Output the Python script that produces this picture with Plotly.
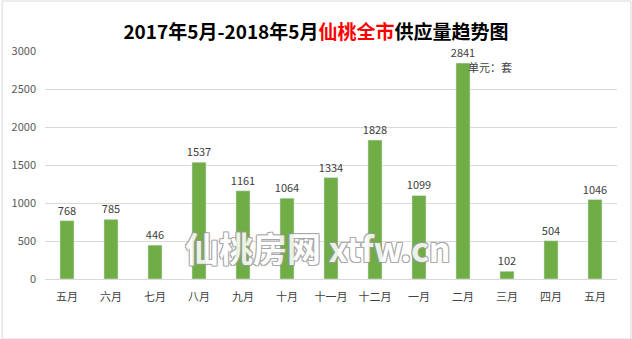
import plotly.graph_objects as go

months = ["五月", "六月", "七月", "八月", "九月", "十月", "十一月", "十二月", "一月", "二月", "三月", "四月", "五月"]
supply = [768, 785, 446, 1537, 1161, 1064, 1334, 1828, 1099, 2841, 102, 504, 1046]
xs = list(range(len(months)))

fig = go.Figure()
fig.add_trace(go.Bar(
    x=xs, y=supply, marker_color="#70ad47", width=0.32,
    text=[str(v) for v in supply], textposition="outside", constraintext="none",
    textfont=dict(size=11, color="#404040", family="Noto Sans CJK SC"),
    cliponaxis=False,
))
fig.update_layout(
    width=632, height=339,
    margin=dict(l=43, r=15, t=51, b=60),
    paper_bgcolor="white", plot_bgcolor="white",
    showlegend=False,
    title=dict(
        text="<b>2017年5月-2018年5月<span style='color:#ff0000'>仙桃全市</span>供应量趋势图</b>",
        x=0.5, xanchor="center", y=0.905, yanchor="middle",
        font=dict(size=19, color="#000000", family="Noto Sans CJK SC"),
    ),
    xaxis=dict(
        tickmode="array", tickvals=xs, ticktext=months, range=[-0.5, 12.5],
        showline=True, linecolor="#d9d9d9", ticks="",
        tickfont=dict(size=11, color="#404040", family="Noto Sans CJK SC"),
        ticklabelstandoff=8,
    ),
    yaxis=dict(
        range=[0, 3000], dtick=500, showgrid=True, gridcolor="#d9d9d9",
        zeroline=False, ticks="", tickfont=dict(size=11, color="#595959", family="Noto Sans CJK SC"),
        ticklabelstandoff=8,
    ),
    shapes=[dict(type="rect", xref="paper", yref="paper", x0=-43/574, x1=1+14/574, y0=-60/228, y1=1+50/228,
                 line=dict(color="#d9d9d9", width=1))],
    annotations=[
        dict(text="单元：套", x=9.06, y=2790, xref="x", yref="y", showarrow=False, xanchor="left", yanchor="middle",
             font=dict(size=11, color="#404040", family="Noto Sans CJK SC")),
        dict(text="<b>仙桃房网 xtfw.cn</b>", x=5.7, y=410, xref="x", yref="y", showarrow=False,
             font=dict(size=34, color="white", family="Noto Sans CJK SC",
                       shadow="1px 1px 0 #999, -1px -1px 0 #999, 1px -1px 0 #999, -1px 1px 0 #999"),
             opacity=0.85),
    ],
)
fig.write_html("out.html")
